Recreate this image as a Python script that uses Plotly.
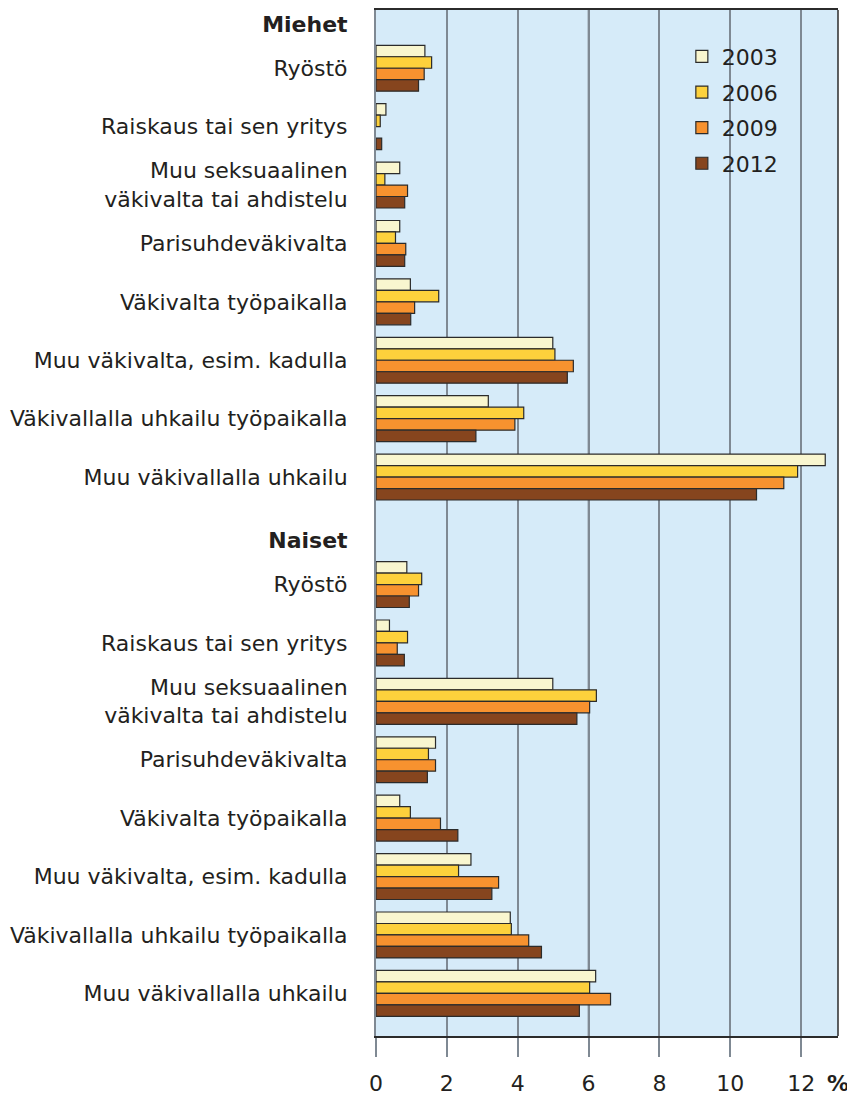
import plotly.graph_objects as go

categories = [
    "Ryöstö",
    "Raiskaus tai sen yritys",
    "Muu seksuaalinen<br>väkivalta tai ahdistelu",
    "Parisuhdeväkivalta",
    "Väkivalta työpaikalla",
    "Muu väkivalta, esim. kadulla",
    "Väkivallalla uhkailu työpaikalla",
    "Muu väkivallalla uhkailu",
]
groups = ["Miehet", "Naiset"]
years = ["2003", "2006", "2009", "2012"]

men_2003 = [1.38, 0.28, 0.67, 0.67, 0.97, 4.99, 3.17, 12.68]
men_2006 = [1.57, 0.12, 0.25, 0.55, 1.77, 5.05, 4.17, 11.90]
men_2009 = [1.36, None, 0.89, 0.84, 1.09, 5.57, 3.92, 11.51]
men_2012 = [1.20, 0.16, 0.81, 0.81, 0.98, 5.40, 2.82, 10.74]

women_2003 = [0.87, 0.38, 4.99, 1.68, 0.67, 2.68, 3.79, 6.20]
women_2006 = [1.29, 0.89, 6.22, 1.48, 0.97, 2.33, 3.82, 6.03]
women_2009 = [1.20, 0.60, 6.03, 1.68, 1.82, 3.46, 4.31, 6.62]
women_2012 = [0.94, 0.80, 5.67, 1.45, 2.31, 3.27, 4.67, 5.74]

x_ticks = [0, 2, 4, 6, 8, 10, 12]

colors = ["#F9F6CF", "#FDD13C", "#F7922F", "#86451E"]
series = [
    (men_2003, women_2003),
    (men_2006, women_2006),
    (men_2009, women_2009),
    (men_2012, women_2012),
]

# layout positions for the two blocks of categories
n = len(categories)
naiset_offset = 8.84
header_shift = 0.75
pos_men = [i for i in range(n)]
pos_women = [naiset_offset + i for i in range(n)]
positions = pos_men + pos_women

text_color = "#231f20"
font_family = "DejaVu Sans"
fs = 22

fig = go.Figure()
for yr, col, (m, w) in zip(years, colors, series):
    fig.add_trace(go.Bar(
        x=list(m) + list(w),
        y=positions,
        orientation="h",
        name=yr,
        legendgroup=yr,
        marker=dict(color=col, line=dict(color="#2b2b2b", width=1.2)),
        hoverinfo="x+name",
    ))

tickvals = [pos_men[0] - header_shift] + pos_men + [pos_women[0] - header_shift] + pos_women
ticktext = ["<b>" + groups[0] + "</b>"] + categories + ["<b>" + groups[1] + "</b>"] + categories

fig.update_layout(
    width=855, height=1097,
    margin=dict(l=368, r=25.3, t=0, b=69.3),
    paper_bgcolor="white",
    plot_bgcolor="#D6EBF9",
    barmode="group",
    bargap=0.214,
    bargroupgap=0,
    font=dict(family=font_family, size=fs, color=text_color),
    showlegend=True,
    legend=dict(
        x=0.662, y=0.975, xanchor="left", yanchor="top",
        bgcolor="rgba(0,0,0,0)",
        font=dict(size=fs, color=text_color),
        tracegroupgap=4,
        traceorder="grouped",
    ),
    xaxis=dict(
        range=[0, 13.04],
        tickvals=x_ticks,
        ticktext=[str(v) for v in x_ticks],
        showgrid=True, gridcolor="#7F8993", gridwidth=2,
        zeroline=False,
        showline=True, linecolor="#2b2b2b", linewidth=1.5, mirror=True,
        ticks="outside", ticklen=19, tickwidth=2, tickcolor="#7F8993",
        ticklabelstandoff=8,
        tickfont=dict(size=fs, color=text_color),
    ),
    yaxis=dict(
        range=[16.57, -0.997],
        tickvals=tickvals, ticktext=ticktext,
        showgrid=False, zeroline=False,
        showline=True, linecolor="#7F8993", linewidth=2,
        ticks="", ticklabelstandoff=22,
        tickfont=dict(size=fs, color=text_color),
    ),
)

# darker reference grid line at 6 %
fig.add_shape(type="line", xref="x", yref="paper", x0=6, x1=6, y0=0, y1=1,
              line=dict(color="#231f20", width=1.5), layer="below")
# right border of the plot frame
fig.add_shape(type="line", xref="paper", yref="paper", x0=1, x1=1, y0=0, y1=1,
              line=dict(color="#2b2b2b", width=1.5), layer="above")

fig.add_annotation(text="<b>%</b>", xref="paper", yref="paper", x=1.0, y=-0.046,
                   xanchor="center", yanchor="middle", showarrow=False,
                   font=dict(size=fs, color=text_color, family=font_family))

fig.write_html("out.html")
